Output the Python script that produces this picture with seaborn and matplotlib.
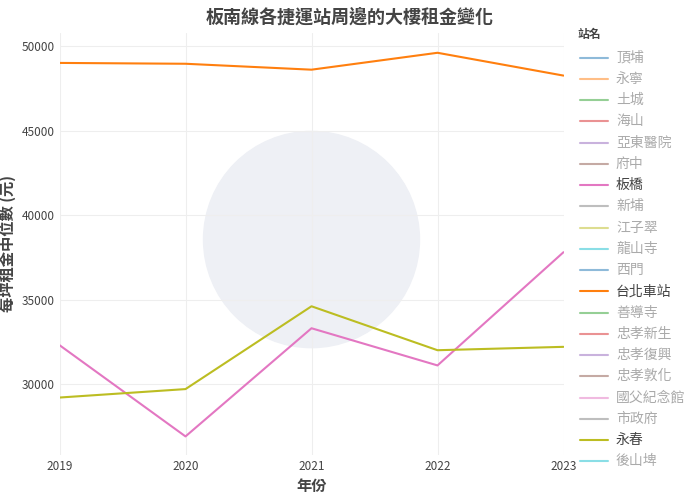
import numpy as np
import matplotlib.pyplot as plt
import pandas as pd
import seaborn as sns
from matplotlib.patches import Ellipse

years = [2019, 2020, 2021, 2022, 2023]
stations = ["頂埔", "永寧", "土城", "海山", "亞東醫院", "府中", "板橋", "新埔", "江子翠", "龍山寺",
            "西門", "台北車站", "善導寺", "忠孝新生", "忠孝復興", "忠孝敦化", "國父紀念館", "市政府", "永春", "後山埤"]
shown = {
    "板橋": [32300, 26900, 33300, 31100, 37800],
    "台北車站": [49000, 48950, 48600, 49600, 48250],
    "永春": [29200, 29700, 34600, 32000, 32200],
}

rows = []
for s, vals in shown.items():
    for y, v in zip(years, vals):
        rows.append({"年份": y, "站名": s, "租金": v})
df = pd.DataFrame(rows)

tab = sns.color_palette("tab10")
palette = {s: tab[i % 10] for i, s in enumerate(stations)}

sns.set_style("white")
plt.rcParams['font.family'] = ['Noto Sans CJK TC', 'DejaVu Sans']

fig = plt.figure(figsize=(7, 5), dpi=100)
ax = fig.add_axes([0.085, 0.09, 0.72, 0.845])

# faint watermark (round in pixels: axes is 504x422 px)
ax.add_patch(Ellipse((0.50, 0.51), 216 / 504, 216 / 422, transform=ax.transAxes,
                     color="#eef0f5", zorder=0))

sns.lineplot(data=df, x="年份", y="租金", hue="站名", palette=palette, ax=ax, legend=False,
             linewidth=1.5)

ax.set_xlim(2019, 2023)
ax.set_ylim(25800, 50800)
ax.set_xticks(years)
ax.set_yticks([30000, 35000, 40000, 45000, 50000])
ax.tick_params(labelsize=8.5, colors="#444444", length=0)
ax.grid(color="#eeeeee", linewidth=0.8)
for sp in ax.spines.values():
    sp.set_visible(False)
ax.set_xlabel("年份", fontsize=11, fontweight="bold", color="#444444")
ax.set_ylabel("每坪租金中位數 (元)", fontsize=11, fontweight="bold", color="#444444")
fig.suptitle("板南線各捷運站周邊的大樓租金變化", x=0.5, y=0.985, fontsize=13,
             fontweight="bold", color="#444444")

# legend
fig.text(0.825, 0.925, "站名", fontsize=8.5, fontweight="bold", color="#444444")
for i, s in enumerate(stations):
    yy = 0.885 - i * 0.0425
    on = s in shown
    a = 1.0 if on else 0.5
    fig.add_artist(plt.Line2D([0.828, 0.868], [yy, yy], color=palette[s], alpha=a,
                              linewidth=1.5, transform=fig.transFigure))
    fig.text(0.88, yy, s, fontsize=10, va="center", color="#444444" if on else "#aaaaaa")

fig.savefig("out.png", dpi=100)
